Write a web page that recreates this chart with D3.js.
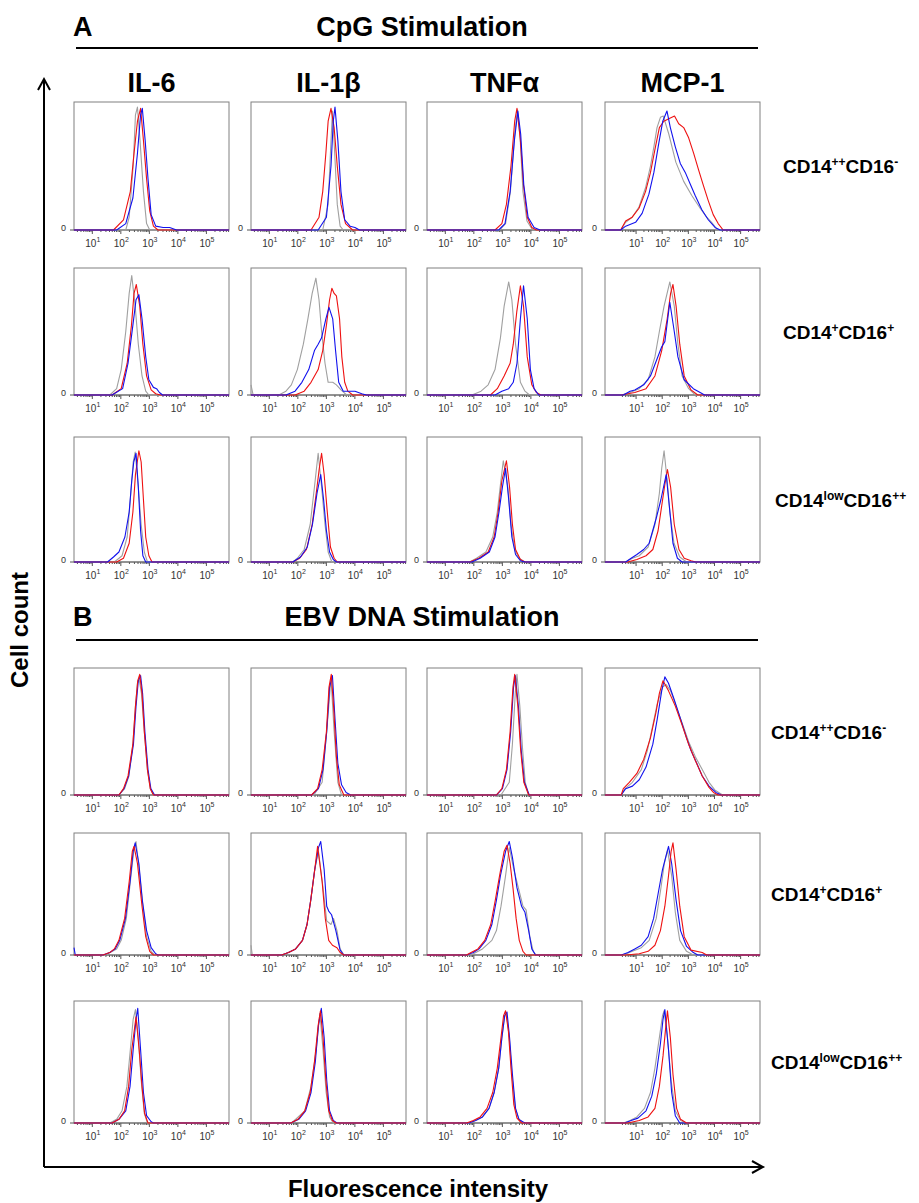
<!DOCTYPE html>
<html>
<head>
<meta charset="utf-8">
<script src="https://cdn.jsdelivr.net/npm/d3@7/dist/d3.min.js"></script>
<style>
  body { margin: 0; background: #fff; }
  text { font-family: "Liberation Sans", Arial, Helvetica, sans-serif; }
</style>
</head>
<body>
<svg id="fig" width="919" height="1203"></svg>
<script>
//-- DATA --\\
var markers = ["IL-6", "IL-1\u03b2", "TNF\u03b1", "MCP-1"];
var subsetNames = [["CD14", "++", "CD16", "-"], ["CD14", "+", "CD16", "+"], ["CD14", "low", "CD16", "++"]];
var sectionLetters = ["A", "B"];
var sectionTitles = ["CpG Stimulation", "EBV DNA Stimulation"];
var decades = [1, 2, 3, 4, 5];
// log10 span shown by each marker column (FlowJo display)
var colLogDomain = [[0.375, 5.81], [0.375, 5.81], [0.375, 5.81], [-0.17, 5.76]];

// each curve: [log10 fluorescence, fraction of panel max count]
var cpg_r1_il6 = {
  gray: [[2.19,0],[2.31,.1],[2.45,.5],[2.53,.9],[2.6,.96],[2.69,.7],[2.81,.3],[2.92,.05],[3.03,0]],
  red: [[1.76,0],[2.11,.08],[2.35,.3],[2.48,.6],[2.6,.85],[2.71,.95],[2.81,.7],[2.92,.4],[3.03,.15],[3.16,.03],[3.32,0]],
  blue: [[1.87,0],[2.19,.05],[2.44,.25],[2.6,.6],[2.71,.9],[2.77,.95],[2.87,.7],[2.97,.4],[3.08,.12],[3.24,.03],[3.5,.02],[3.73,.02],[3.97,0]]
};
var cpg_r1_il1b = {
  gray: [[2.89,0],[3.08,.2],[3.16,.6],[3.23,.93],[3.31,.6],[3.40,.2],[3.5,.03],[3.61,0]],
  red: [[2.48,0],[2.76,.1],[2.89,.3],[3.0,.6],[3.08,.85],[3.18,.95],[3.29,.8],[3.40,.5],[3.53,.2],[3.69,.05],[3.94,0]],
  blue: [[2.73,0],[3.02,.1],[3.18,.5],[3.26,.85],[3.32,.96],[3.42,.7],[3.53,.3],[3.66,.08],[3.85,.03],[4.02,.02],[4.18,0]]
};
var cpg_r1_tnfa = {
  gray: [[2.92,0],[3.13,.05],[3.3,.3],[3.45,.75],[3.55,.94],[3.64,.72],[3.74,.3],[3.88,.07],[4.05,.01],[4.25,0]],
  red: [[2.76,0],[3.0,.05],[3.16,.2],[3.32,.5],[3.45,.85],[3.53,.95],[3.65,.7],[3.76,.35],[3.89,.1],[4.05,.02],[4.21,0]],
  blue: [[2.89,0],[3.11,.05],[3.29,.3],[3.44,.7],[3.56,.93],[3.66,.75],[3.77,.35],[3.92,.1],[4.13,.02],[4.34,0]]
};
var cpg_r1_mcp1 = {
  gray: [[0.43,0],[0.62,.06],[0.87,.1],[1.13,.18],[1.38,.33],[1.57,.5],[1.70,.65],[1.82,.8],[1.95,.88],[2.06,.89],[2.27,.75],[2.54,.53],[2.84,.38],[3.15,.27],[3.47,.17],[3.72,.1],[3.91,.06],[4.1,.01],[4.23,0]],
  red: [[0.43,0],[0.62,.07],[0.87,.1],[1.13,.17],[1.38,.3],[1.57,.45],[1.76,.65],[1.91,.8],[2.08,.85],[2.27,.87],[2.49,.89],[2.65,.83],[2.84,.8],[3.03,.72],[3.22,.6],[3.41,.47],[3.59,.35],[3.78,.23],[3.97,.12],[4.16,.05],[4.35,0]],
  blue: [[0.43,0],[0.62,.03],[1.0,.06],[1.25,.13],[1.51,.28],[1.70,.45],[1.89,.68],[2.04,.85],[2.2,.93],[2.33,.8],[2.52,.65],[2.71,.52],[2.9,.45],[3.09,.36],[3.28,.27],[3.53,.16],[3.78,.08],[4.04,.02],[4.23,0]]
};
var cpg_r2_il6 = {
  gray: [[1.63,0],[1.87,.05],[2.03,.2],[2.19,.5],[2.31,.8],[2.40,.94],[2.52,.7],[2.63,.4],[2.76,.15],[2.89,.03],[3.0,0]],
  red: [[1.71,0],[2.03,.05],[2.24,.25],[2.39,.55],[2.48,.8],[2.56,.87],[2.68,.7],[2.79,.4],[2.92,.15],[3.08,.04],[3.24,.01],[3.4,0]],
  blue: [[1.71,0],[2.08,.05],[2.27,.25],[2.44,.55],[2.55,.75],[2.65,.79],[2.76,.6],[2.89,.3],[3.0,.12],[3.16,.06],[3.27,.05],[3.37,.02],[3.48,0]]
};
var cpg_r2_il1b = {
  gray: [[0.375,.08],[0.45,0],[1.35,0],[1.6,.03],[1.79,.08],[2.0,.2],[2.21,.4],[2.37,.6],[2.52,.8],[2.65,.92],[2.76,.75],[2.85,.5],[2.97,.25],[3.08,.1],[3.24,.1],[3.37,.08],[3.53,.04],[3.73,0]],
  red: [[1.92,0],[2.24,.03],[2.48,.1],[2.73,.2],[2.89,.35],[3.02,.55],[3.13,.75],[3.21,.84],[3.29,.8],[3.37,.78],[3.48,.6],[3.56,.3],[3.66,.1],[3.77,.03],[3.94,0]],
  blue: [[1.6,0],[1.92,.03],[2.16,.1],[2.4,.2],[2.6,.35],[2.73,.4],[2.85,.45],[3.0,.6],[3.11,.69],[3.24,.6],[3.34,.35],[3.45,.1],[3.61,.03],[3.8,.03],[4.02,.03],[4.26,.01],[4.42,0]]
};
var cpg_r2_tnfa = {
  gray: [[1.95,0],[2.27,.03],[2.52,.08],[2.76,.2],[2.95,.45],[3.08,.7],[3.24,.89],[3.35,.75],[3.48,.4],[3.65,.1],[3.81,.03],[3.97,0]],
  red: [[2.6,0],[2.84,.05],[3.08,.15],[3.29,.25],[3.4,.4],[3.52,.65],[3.65,.86],[3.76,.7],[3.89,.3],[4.05,.08],[4.21,.02],[4.37,0]],
  blue: [[2.76,0],[3.0,.03],[3.24,.05],[3.4,.1],[3.53,.25],[3.65,.6],[3.76,.86],[3.89,.6],[4.0,.2],[4.13,.05],[4.29,0]]
};
var cpg_r2_mcp1 = {
  gray: [[0.45,0],[0.79,.02],[1.14,.05],[1.48,.12],[1.74,.3],[1.91,.5],[2.09,.7],[2.31,.89],[2.48,.7],[2.62,.4],[2.78,.15],[3.03,.05],[3.29,0]],
  red: [[0.45,0],[0.97,.02],[1.4,.05],[1.74,.15],[2.0,.35],[2.21,.6],[2.34,.8],[2.43,.87],[2.55,.7],[2.69,.4],[2.86,.15],[3.12,.04],[3.38,0]],
  blue: [[0.53,0],[0.79,.03],[0.97,.04],[1.31,.08],[1.57,.15],[2.0,.38],[2.12,.42],[2.31,.73],[2.48,.5],[2.62,.3],[2.86,.12],[3.21,.05],[3.47,.02],[3.64,0]]
};
var cpg_r3_il6 = {
  gray: [[1.79,0],[2.06,.05],[2.24,.2],[2.35,.5],[2.45,.8],[2.52,.88],[2.63,.6],[2.73,.3],[2.84,.08],[2.95,0]],
  red: [[1.87,0],[2.11,.03],[2.31,.15],[2.44,.4],[2.53,.7],[2.65,.89],[2.73,.8],[2.81,.5],[2.89,.2],[3.0,.05],[3.11,0]],
  blue: [[1.55,0],[1.76,.04],[1.95,.08],[2.16,.2],[2.31,.4],[2.40,.65],[2.47,.8],[2.55,.87],[2.63,.6],[2.71,.25],[2.79,.05],[2.89,0]]
};
var cpg_r3_il1b = {
  gray: [[1.84,0],[2.0,.03],[2.24,.1],[2.45,.3],[2.6,.6],[2.73,.87],[2.85,.6],[2.97,.3],[3.08,.08],[3.21,0]],
  red: [[1.84,0],[2.08,.03],[2.32,.1],[2.52,.3],[2.69,.6],[2.77,.75],[2.85,.87],[2.94,.7],[3.05,.4],[3.16,.12],[3.29,.03],[3.4,0]],
  blue: [[1.84,0],[2.11,.04],[2.35,.12],[2.53,.3],[2.69,.55],[2.82,.7],[2.92,.5],[3.02,.25],[3.13,.08],[3.26,.02],[3.37,0]]
};
var cpg_r3_tnfa = {
  gray: [[1.87,0],[2.11,.03],[2.44,.08],[2.68,.2],[2.84,.4],[2.94,.6],[3.05,.81],[3.21,.6],[3.32,.3],[3.45,.1],[3.6,.03],[3.81,0]],
  red: [[1.87,0],[2.19,.03],[2.52,.08],[2.73,.2],[2.87,.4],[3.0,.65],[3.16,.81],[3.27,.6],[3.37,.3],[3.48,.1],[3.65,.02],[3.81,0]],
  blue: [[1.95,0],[2.24,.03],[2.56,.08],[2.76,.2],[2.9,.4],[3.02,.6],[3.13,.75],[3.24,.5],[3.35,.2],[3.48,.06],[3.65,.01],[3.81,0]]
};
var cpg_r3_mcp1 = {
  gray: [[0.62,0],[0.88,.03],[1.14,.05],[1.48,.12],[1.74,.3],[1.91,.55],[2.0,.75],[2.09,.89],[2.21,.65],[2.31,.4],[2.47,.15],[2.69,.04],[2.95,0]],
  red: [[0.7,0],[1.05,.02],[1.4,.05],[1.66,.1],[1.86,.25],[2.0,.45],[2.12,.62],[2.22,.74],[2.34,.6],[2.48,.3],[2.66,.1],[2.86,.03],[3.12,.01],[3.3,0]],
  blue: [[0.62,0],[0.83,.03],[1.05,.06],[1.31,.1],[1.52,.15],[1.79,.35],[1.97,.5],[2.17,.7],[2.29,.45],[2.43,.15],[2.6,.03],[2.78,0]]
};

var ebv_r1_il6 = {
  gray: [[1.95,0],[2.15,.05],[2.3,.15],[2.44,.4],[2.53,.7],[2.6,.88],[2.66,.91],[2.74,.8],[2.84,.5],[2.95,.2],[3.05,.05],[3.16,0]],
  red: [[1.95,0],[2.11,.05],[2.27,.15],[2.44,.4],[2.53,.7],[2.61,.9],[2.68,.95],[2.76,.8],[2.84,.5],[2.95,.2],[3.05,.05],[3.16,0]],
  blue: [[1.95,0],[2.13,.05],[2.29,.15],[2.46,.4],[2.55,.7],[2.63,.9],[2.71,.94],[2.78,.8],[2.86,.5],[2.97,.2],[3.07,.05],[3.2,0]]
};
var ebv_r1_il1b = {
  gray: [[2.58,0],[2.87,.1],[3.03,.5],[3.18,.92],[3.29,.5],[3.42,.1],[3.55,0]],
  red: [[2.5,0],[2.71,.05],[2.87,.2],[3.02,.5],[3.11,.85],[3.19,.95],[3.27,.7],[3.37,.3],[3.47,.08],[3.63,0]],
  blue: [[2.5,0],[2.74,.05],[2.9,.2],[3.03,.5],[3.13,.85],[3.23,.94],[3.32,.6],[3.42,.25],[3.55,.08],[3.71,.02],[3.87,0]]
};
var ebv_r1_tnfa = {
  gray: [[2.97,0],[3.26,.1],[3.37,.4],[3.47,.8],[3.53,.95],[3.63,.7],[3.73,.35],[3.82,.1],[3.94,0]],
  red: [[2.81,0],[3.0,.05],[3.16,.2],[3.29,.5],[3.39,.85],[3.45,.95],[3.56,.7],[3.66,.35],[3.77,.1],[3.94,0]],
  blue: [[2.81,0],[3.02,.05],[3.18,.2],[3.31,.5],[3.41,.85],[3.47,.94],[3.58,.7],[3.68,.35],[3.79,.1],[3.96,0]]
};
var ebv_r1_mcp1 = {
  gray: [[0.45,0],[0.6,.05],[0.88,.1],[1.22,.2],[1.45,.35],[1.66,.55],[1.83,.72],[2.03,.85],[2.17,.87],[2.34,.82],[2.55,.7],[2.81,.55],[3.03,.42],[3.29,.3],[3.55,.2],[3.81,.1],[4.03,.04],[4.33,0]],
  red: [[0.45,0],[0.53,.05],[0.76,.1],[1.05,.17],[1.31,.28],[1.57,.45],[1.78,.65],[1.91,.8],[2.05,.9],[2.26,.82],[2.52,.7],[2.78,.55],[3.03,.4],[3.29,.27],[3.55,.15],[3.81,.06],[3.98,.02],[4.16,0]],
  blue: [[0.45,0],[0.62,.05],[0.88,.07],[1.14,.12],[1.4,.22],[1.66,.4],[1.83,.6],[2.0,.82],[2.12,.93],[2.26,.88],[2.48,.75],[2.72,.6],[2.95,.45],[3.12,.35],[3.34,.25],[3.55,.15],[3.81,.07],[4.07,.02],[4.28,0]]
};
var ebv_r2_il6 = {
  gray: [[1.47,0],[1.87,.05],[2.03,.12],[2.21,.3],[2.35,.6],[2.47,.85],[2.55,.93],[2.66,.7],[2.79,.4],[2.92,.15],[3.08,.03],[3.21,0]],
  red: [[1.39,0],[1.63,.02],[1.79,.05],[1.95,.12],[2.15,.3],[2.31,.6],[2.42,.85],[2.48,.89],[2.6,.75],[2.76,.4],[2.89,.15],[3.03,.03],[3.16,0]],
  blue: [[0.375,.06],[0.42,0],[1.39,0],[1.63,.02],[1.82,.05],[1.98,.12],[2.18,.3],[2.34,.6],[2.45,.85],[2.52,.92],[2.65,.75],[2.77,.45],[2.92,.2],[3.08,.06],[3.24,.01],[3.32,0]]
};
var ebv_r2_il1b = {
  gray: [[0.375,.08],[0.42,0],[1.45,0],[1.69,.02],[1.94,.05],[2.18,.12],[2.34,.25],[2.47,.45],[2.61,.7],[2.74,.85],[2.9,.55],[3.03,.28],[3.18,.25],[3.27,.3],[3.39,.2],[3.5,.05],[3.63,0]],
  red: [[1.45,0],[1.69,.02],[1.94,.05],[2.18,.12],[2.34,.25],[2.47,.45],[2.61,.7],[2.71,.89],[2.87,.6],[2.98,.3],[3.1,.12],[3.23,.08],[3.39,.06],[3.5,.02],[3.63,0]],
  blue: [[1.45,0],[1.69,.02],[1.94,.05],[2.18,.12],[2.34,.25],[2.47,.45],[2.61,.7],[2.74,.88],[2.82,.93],[2.94,.7],[3.03,.4],[3.1,.36],[3.2,.33],[3.35,.2],[3.5,.04],[3.63,0]]
};
var ebv_r2_tnfa = {
  gray: [[1.92,0],[2.32,.05],[2.65,.12],[2.81,.2],[2.97,.4],[3.13,.65],[3.26,.88],[3.42,.7],[3.58,.55],[3.74,.4],[3.85,.37],[3.98,.15],[4.1,.03],[4.2,0]],
  red: [[1.76,0],[1.92,.02],[2.16,.05],[2.4,.12],[2.61,.25],[2.77,.45],[2.92,.65],[3.08,.85],[3.18,.9],[3.29,.75],[3.39,.55],[3.5,.3],[3.61,.12],[3.74,.03],[3.85,0]],
  blue: [[1.76,0],[2.0,.02],[2.2,.05],[2.44,.12],[2.65,.25],[2.81,.45],[2.95,.65],[3.13,.85],[3.26,.93],[3.37,.8],[3.53,.55],[3.69,.4],[3.81,.35],[3.94,.2],[4.05,.05],[4.18,0]]
};
var ebv_r2_mcp1 = {
  gray: [[0.53,0],[0.88,.03],[1.22,.06],[1.52,.12],[1.79,.3],[1.97,.55],[2.1,.75],[2.22,.86],[2.38,.65],[2.52,.35],[2.69,.12],[2.95,.03],[3.21,0]],
  red: [[0.62,0],[1.14,.01],[1.48,.03],[1.74,.08],[1.95,.2],[2.12,.4],[2.26,.65],[2.36,.85],[2.43,.92],[2.55,.7],[2.69,.4],[2.86,.15],[3.12,.04],[3.55,.02],[3.72,0]],
  blue: [[0.45,0],[0.71,.02],[0.97,.05],[1.22,.08],[1.48,.15],[1.69,.3],[1.86,.5],[2.03,.7],[2.26,.89],[2.38,.75],[2.55,.45],[2.72,.2],[2.95,.07],[3.21,.02],[3.38,0]]
};
var ebv_r3_il6 = {
  gray: [[1.63,0],[1.87,.03],[2.06,.1],[2.23,.3],[2.35,.6],[2.45,.85],[2.53,.93],[2.63,.7],[2.73,.35],[2.84,.08],[2.95,0]],
  red: [[1.71,0],[1.95,.03],[2.15,.1],[2.29,.3],[2.4,.6],[2.55,.87],[2.66,.6],[2.76,.3],[2.85,.08],[2.97,0]],
  blue: [[1.71,0],[1.95,.03],[2.19,.1],[2.34,.3],[2.45,.6],[2.55,.85],[2.61,.94],[2.71,.6],[2.81,.25],[2.92,.06],[3.08,.01],[3.16,0]]
};
var ebv_r3_il1b = {
  gray: [[1.8,0],[2.26,.1],[2.48,.3],[2.66,.6],[2.79,.9],[2.9,.6],[3.01,.25],[3.13,.05],[3.26,0]],
  red: [[1.77,0],[2.02,.03],[2.26,.1],[2.45,.25],[2.6,.5],[2.73,.8],[2.81,.92],[2.9,.7],[3.0,.35],[3.1,.1],[3.23,.02],[3.35,0]],
  blue: [[1.77,0],[2.05,.03],[2.29,.1],[2.48,.25],[2.63,.5],[2.74,.8],[2.84,.94],[2.94,.7],[3.03,.35],[3.13,.1],[3.26,.02],[3.39,0]]
};
var ebv_r3_tnfa = {
  gray: [[1.84,0],[2.08,.02],[2.32,.05],[2.55,.12],[2.73,.25],[2.89,.45],[3.0,.7],[3.1,.88],[3.16,.9],[3.26,.7],[3.35,.4],[3.47,.12],[3.6,.03],[3.76,0]],
  red: [[1.76,0],[2.0,.02],[2.24,.05],[2.48,.12],[2.68,.25],[2.84,.45],[2.97,.7],[3.06,.88],[3.13,.92],[3.23,.75],[3.32,.45],[3.42,.15],[3.53,.04],[3.69,0]],
  blue: [[1.84,0],[2.08,.02],[2.32,.05],[2.55,.12],[2.73,.25],[2.89,.45],[3.0,.7],[3.1,.88],[3.18,.91],[3.27,.7],[3.37,.4],[3.48,.12],[3.6,.03],[3.73,.01],[3.82,0]]
};
var ebv_r3_mcp1 = {
  gray: [[0.53,0],[0.79,.02],[1.05,.05],[1.34,.12],[1.57,.25],[1.74,.45],[1.91,.7],[2.03,.88],[2.09,.92],[2.22,.7],[2.36,.35],[2.52,.1],[2.72,.02],[2.95,0]],
  red: [[0.7,0],[1.14,.02],[1.48,.05],[1.74,.12],[1.91,.3],[2.05,.55],[2.16,.8],[2.22,.92],[2.33,.7],[2.43,.4],[2.57,.12],[2.72,.03],[2.95,0]],
  blue: [[0.58,0],[0.83,.02],[1.09,.04],[1.4,.1],[1.62,.22],[1.79,.4],[1.95,.65],[2.05,.85],[2.12,.93],[2.26,.6],[2.38,.25],[2.52,.06],[2.69,0]]
};

var cpgPanels = [
  [cpg_r1_il6, cpg_r1_il1b, cpg_r1_tnfa, cpg_r1_mcp1],
  [cpg_r2_il6, cpg_r2_il1b, cpg_r2_tnfa, cpg_r2_mcp1],
  [cpg_r3_il6, cpg_r3_il1b, cpg_r3_tnfa, cpg_r3_mcp1]
];
var ebvPanels = [
  [ebv_r1_il6, ebv_r1_il1b, ebv_r1_tnfa, ebv_r1_mcp1],
  [ebv_r2_il6, ebv_r2_il1b, ebv_r2_tnfa, ebv_r2_mcp1],
  [ebv_r3_il6, ebv_r3_il1b, ebv_r3_tnfa, ebv_r3_mcp1]
];

//-- LAYOUT --\\
var colLeft = [74, 251, 427, 605];
var colWidth = 155;
var rowTop = [[102, 268, 437], [668, 833, 1001]];
var rowHeight = [[128, 127, 125], [127, 122, 122]];
var rowLabelX = [[783, 783, 775], [771, 771, 771]];
var titleY = [36, 626];
var ruleY = [48, 640];
var drawOrder = [["gray", "red", "blue"], ["gray", "blue", "red"]];
var curveCol = { gray: "#a0a0a0", red: "#ee1111", blue: "#1111ee" };
var headFont = 27;

var svg = d3.select("#fig");

function drawPanel(px, py, w, h, col, curves, order) {
  var dom = colLogDomain[col];
  var x = d3.scaleLog().domain([Math.pow(10, dom[0]), Math.pow(10, dom[1])]).range([px, px + w]);
  var y = d3.scaleLinear().domain([0, 1]).range([py + h, py]);
  var g = svg.append("g");

  g.append("rect")
    .attr("x", px).attr("y", py).attr("width", w).attr("height", h)
    .attr("fill", "none").attr("stroke", "#808080").attr("stroke-width", 1);

  // minor and major ticks on the fluorescence axis
  var minor = x.ticks(30).filter(function (v) {
    var lg = Math.log10(v);
    return v >= 3 && Math.abs(lg - Math.round(lg)) > 1e-6;
  });
  var major = decades.map(function (d) { return Math.pow(10, d); });

  g.append("g")
    .attr("transform", "translate(0," + (py + h) + ")")
    .call(d3.axisBottom(x).tickValues(minor).tickSize(2).tickSizeOuter(0).tickFormat(""))
    .call(function (a) { a.select(".domain").remove(); a.selectAll("line").attr("stroke", "#555"); });
  g.append("g")
    .attr("transform", "translate(0," + (py + h) + ")")
    .call(d3.axisBottom(x).tickValues(major).tickSize(4).tickSizeOuter(0).tickFormat(""))
    .call(function (a) { a.select(".domain").remove(); a.selectAll("line").attr("stroke", "#555"); });

  g.append("line")
    .attr("x1", px).attr("x2", px + w).attr("y1", py + h).attr("y2", py + h)
    .attr("stroke", "#666").attr("stroke-width", 1);

  decades.forEach(function (d) {
    var t = g.append("text")
      .attr("x", x(Math.pow(10, d)) + 1).attr("y", py + h + 17)
      .attr("text-anchor", "middle").attr("font-size", 10).attr("fill", "#333");
    t.append("tspan").text("10");
    t.append("tspan").attr("dy", -5).attr("font-size", 7).text(d);
  });

  // zero of the count axis
  g.append("text").attr("x", px - 8).attr("y", py + h + 1)
    .attr("text-anchor", "end").attr("font-size", 9).attr("fill", "#333").text("0");
  g.append("line").attr("x1", px - 4).attr("x2", px).attr("y1", py + h).attr("y2", py + h)
    .attr("stroke", "#555");

  var line = d3.line()
    .x(function (d) { return x(Math.pow(10, d[0])); })
    .y(function (d) { return y(d[1]); });

  order.forEach(function (c) {
    var pts = curves[c].slice();
    if (pts[0][0] > dom[0]) pts.unshift([dom[0], 0]);
    if (pts[pts.length - 1][0] < dom[1]) pts.push([dom[1], 0]);
    g.append("path").datum(pts)
      .attr("d", line)
      .attr("fill", "none")
      .attr("stroke", curveCol[c])
      .attr("stroke-width", 1.1)
      .attr("stroke-linejoin", "round");
  });
}

function rowLabel(xp, yp, parts) {
  var t = svg.append("text").attr("x", xp).attr("y", yp)
    .attr("font-size", 19).attr("font-weight", "bold").attr("fill", "#000");
  t.append("tspan").text(parts[0]);
  t.append("tspan").attr("dy", -7).attr("font-size", 12).text(parts[1]);
  t.append("tspan").attr("dy", 7).text(parts[2]);
  t.append("tspan").attr("dy", -7).attr("font-size", 12).text(parts[3]);
}

[cpgPanels, ebvPanels].forEach(function (panels, si) {
  svg.append("text").attr("x", 73).attr("y", titleY[si])
    .attr("font-size", 27).attr("font-weight", "bold").text(sectionLetters[si]);
  svg.append("text").attr("x", 422).attr("y", titleY[si])
    .attr("text-anchor", "middle").attr("font-size", headFont).attr("font-weight", "bold")
    .text(sectionTitles[si]);
  svg.append("line").attr("x1", 76).attr("x2", 758).attr("y1", ruleY[si]).attr("y2", ruleY[si])
    .attr("stroke", "#000").attr("stroke-width", 2);

  panels.forEach(function (row, ri) {
    row.forEach(function (curves, ci) {
      drawPanel(colLeft[ci], rowTop[si][ri], colWidth, rowHeight[si][ri], ci, curves, drawOrder[si]);
    });
    rowLabel(rowLabelX[si][ri], rowTop[si][ri] + rowHeight[si][ri] / 2 + 7, subsetNames[ri]);
  });
});

// marker headers
markers.forEach(function (m, ci) {
  svg.append("text").attr("x", colLeft[ci] + colWidth / 2).attr("y", 92)
    .attr("text-anchor", "middle").attr("font-size", headFont).attr("font-weight", "bold").text(m);
});

// big axis arrows
svg.append("path").attr("d", "M44,1167 L44,79 M38,90 L44,79 L50,90")
  .attr("fill", "none").attr("stroke", "#000").attr("stroke-width", 2);
svg.append("path").attr("d", "M44,1167 L763,1167 M752,1161 L763,1167 L752,1173")
  .attr("fill", "none").attr("stroke", "#000").attr("stroke-width", 2);

svg.append("text").attr("transform", "translate(28,630) rotate(-90)")
  .attr("text-anchor", "middle").attr("font-size", 24).attr("font-weight", "bold").text("Cell count");
svg.append("text").attr("x", 418).attr("y", 1197)
  .attr("text-anchor", "middle").attr("font-size", 24).attr("font-weight", "bold").text("Fluorescence intensity");
</script>
</body>
</html>
